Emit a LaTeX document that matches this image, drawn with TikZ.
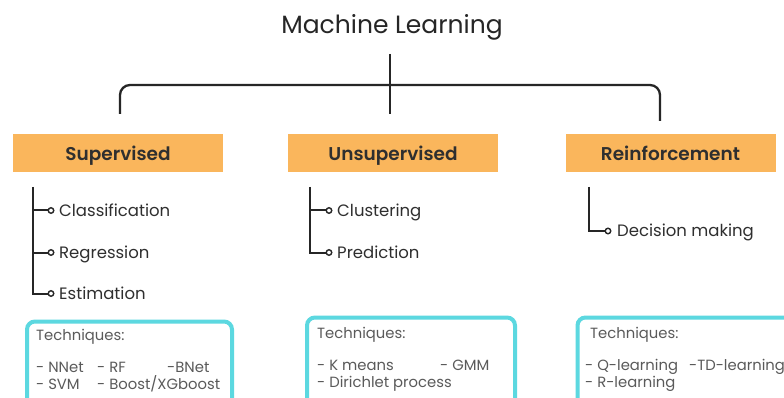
\documentclass[tikz,border=0pt]{standalone}
\usepackage{fontspec}
\setmainfont{Poppins}[BoldFont={Poppins SemiBold}]
\definecolor{orng}{HTML}{FAB65C}
\definecolor{cyanb}{HTML}{5CD8E0}
\definecolor{txt}{HTML}{2F2F2F}
\definecolor{gry}{HTML}{5A5A5A}
\definecolor{linec}{HTML}{262626}
\tikzset{
  catbox/.style={fill=orng, minimum width=210pt, minimum height=38pt, inner sep=0pt,
    text height=17pt, text depth=1pt,
    font=\fontsize{18.5}{20}\selectfont\bfseries, text=txt},
  itemtext/.style={anchor=base west, inner sep=0pt, font=\fontsize{16.5}{18}\selectfont, text=txt},
  dotnode/.style={circle, draw=linec, fill=white, line width=1.4pt, minimum size=5.5pt, inner sep=0pt},
  treeline/.style={draw=linec, line width=2pt},
  techbox/.style={draw=cyanb, line width=4pt, rounded corners=8pt, anchor=north west, inner sep=0pt},
  techtext/.style={anchor=base west, inner sep=0pt, font=\fontsize{14.8}{16}\selectfont, text=gry},
}
\begin{document}
\begin{tikzpicture}[x=1pt,y=-1pt]
\clip (0,0) rectangle (784,398);
\fill[white] (0,0) rectangle (784,398);

% title
\node[font=\fontsize{25}{30}\selectfont, text=linec, inner sep=0pt] (title) at (392,27) {Machine Learning};

% bracket
\coordinate (top) at (390,54);
\coordinate (mid) at (390,114);
\coordinate (bar) at (390,85);
\coordinate (legL) at (120,114);
\coordinate (legR) at (660,121);
\draw[treeline, line width=2.3pt] (top) -- (mid);
\draw[treeline, line width=2.3pt, rounded corners=10pt] (legL) -- (legL |- bar) -- (legR |- bar) -- (legR);

% categories
\node[catbox] (sup) at (118,153) {Supervised};
\node[catbox] (uns) at (393,153) {Unsupervised};
\node[catbox] (rei) at (670.5,153) {Reinforcement};

% supervised list
\coordinate (s0) at (33,187);
\node[dotnode] (sd1) at (51,210.5) {};
\node[dotnode] (sd2) at (51,252.5) {};
\node[dotnode] (sd3) at (51,293.5) {};
\node[itemtext] (si1) at (59,216) {Classification};
\node[itemtext] (si2) at (59,258) {Regression};
\node[itemtext] (si3) at (59,299) {Estimation};
\draw[treeline] (s0) |- (sd3.west);
\draw[treeline] (s0 |- sd1) -- (sd1.west);
\draw[treeline] (s0 |- sd2) -- (sd2.west);

% unsupervised list
\coordinate (u0) at (310,187);
\node[dotnode] (ud1) at (329,210.5) {};
\node[dotnode] (ud2) at (329,252.5) {};
\node[itemtext] (ui1) at (337,216) {Clustering};
\node[itemtext] (ui2) at (337,258) {Prediction};
\draw[treeline] (u0) |- (ud2.west);
\draw[treeline] (u0 |- ud1) -- (ud1.west);

% reinforcement list
\coordinate (r0) at (589,187);
\node[dotnode] (rd1) at (608,231) {};
\node[itemtext] (ri1) at (617,236.5) {Decision making};
\draw[treeline] (r0) |- (rd1.west);

% technique boxes
\node[techbox, minimum width=205pt, minimum height=95pt] (tb1) at (25,319.5) {};
\node[techbox, minimum width=208pt, minimum height=95pt] (tb2) at (305,315.5) {};
\node[techbox, minimum width=230pt, minimum height=95pt] (tb3) at (575.5,315.5) {};

\node[techtext] (t1h) at (36,340) {Techniques:};
\node[techtext] (t1a) at (36,372) {- NNet};
\node[techtext] (t1b) at (97,372) {- RF};
\node[techtext] (t1c) at (167,372) {-BNet};
\node[techtext] (t1d) at (36,389) {- SVM};
\node[techtext] (t1e) at (97,389) {- Boost/XGboost};

\node[techtext] (t2h) at (317,338) {Techniques:};
\node[techtext] (t2a) at (317,370) {- K means};
\node[techtext] (t2b) at (440,370) {- GMM};
\node[techtext] (t2c) at (317,387) {- Dirichlet process};

\node[techtext] (t3h) at (590,338) {Techniques:};
\node[techtext] (t3a) at (585,370) {- Q-learning};
\node[techtext] (t3b) at (689,370) {-TD-learning};
\node[techtext] (t3c) at (585,387) {- R-learning};
\end{tikzpicture}
\end{document}
